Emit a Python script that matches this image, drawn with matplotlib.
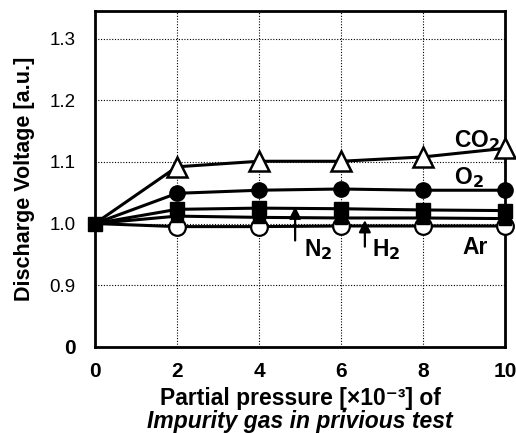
"""Discharge voltage vs. partial pressure of impurity gas."""

import matplotlib
matplotlib.use("Agg")
import matplotlib.pyplot as plt

plt.rcParams.update({
    "font.family": ["Liberation Sans", "DejaVu Sans"],
    "font.size": 14,
    "axes.linewidth": 2.0,
    "mathtext.default": "bf",
})

pressure = [0, 2, 4, 6, 8, 10]
v_co2 = [1.000, 1.092, 1.101, 1.101, 1.108, 1.122]
v_o2 = [1.000, 1.049, 1.054, 1.056, 1.054, 1.054]
v_n2 = [1.000, 1.023, 1.025, 1.024, 1.022, 1.021]
v_h2 = [1.000, 1.012, 1.010, 1.009, 1.009, 1.008]
v_ar = [1.000, 0.995, 0.995, 0.996, 0.996, 0.996]

ytick_vals = [0.8, 0.9, 1.0, 1.1, 1.2, 1.3]
ytick_labels = ["0", "0.9", "1.0", "1.1", "1.2", "1.3"]
xtick_vals = [0, 2, 4, 6, 8, 10]

fig = plt.figure(figsize=(5.16, 4.33), dpi=100)
ax = fig.add_axes([0.184, 0.199, 0.795, 0.776])

lw = 2.2
later = slice(1, None)
ax.plot(pressure, v_ar, color="black", lw=lw, marker="o", ms=12,
        mfc="white", mec="black", mew=1.6, markevery=later,
        clip_on=False, zorder=3)
ax.plot(pressure, v_h2, color="black", lw=lw, marker="s", ms=9,
        mfc="black", mec="black", markevery=later, clip_on=False, zorder=4)
ax.plot(pressure, v_o2, color="black", lw=lw, marker="o", ms=11,
        mfc="black", mec="black", markevery=later, clip_on=False, zorder=5)
ax.plot(pressure, v_co2, color="black", lw=lw, marker="^", ms=14,
        mfc="white", mec="black", mew=1.8, markevery=later,
        clip_on=False, zorder=6)
ax.plot(pressure, v_n2, color="black", lw=lw, marker="s", ms=10,
        mfc="black", mec="black", clip_on=False, zorder=7)

ax.set_xlim(0, 10)
ax.set_ylim(0.8, 1.345)
ax.set_xticks(xtick_vals)
ax.set_xticklabels([str(v) for v in xtick_vals], fontsize=15,
                   fontweight="bold")
ax.set_yticks(ytick_vals)
ax.set_yticklabels(ytick_labels, fontsize=13.5)
ax.get_yticklabels()[0].set_fontweight("bold")
ax.get_yticklabels()[0].set_fontsize(15)
ax.tick_params(axis="y", length=0, pad=14)
ax.tick_params(axis="x", length=0, pad=11)

ax.grid(True, color="black", linestyle=(0, (1, 1.5)), linewidth=0.8)
ax.set_axisbelow(True)

ax.set_ylabel("Discharge Voltage [a.u.]", fontsize=15.5, fontweight="bold",
              labelpad=10)
ax.text(0.5, -0.155, "Partial pressure [×10⁻³] of",
        transform=ax.transAxes, ha="center", va="center", fontsize=16.5,
        fontweight="bold")
ax.text(0.5, -0.222, "Impurity gas in privious test",
        transform=ax.transAxes, ha="center", va="center", fontsize=16.5,
        fontweight="bold", style="italic")

lab = dict(fontsize=16.5, fontweight="bold", va="center", ha="left", zorder=8)
ax.text(8.75, 1.134, "CO$_2$", **lab)
ax.text(8.75, 1.075, "O$_2$", **lab)
ax.text(5.1, 0.958, "N$_2$", **lab)
ax.text(6.75, 0.958, "H$_2$", **lab)
ax.text(8.95, 0.961, "Ar", **lab)

arrow = dict(arrowstyle="-|>,head_width=0.25,head_length=0.5", color="black",
             lw=1.6)
ax.annotate("", xy=(4.88, 1.032), xytext=(4.88, 0.968), arrowprops=arrow,
            zorder=8)
ax.annotate("", xy=(6.58, 1.010), xytext=(6.58, 0.958), arrowprops=arrow,
            zorder=8)

fig.savefig("out.png", dpi=100, facecolor="white")
